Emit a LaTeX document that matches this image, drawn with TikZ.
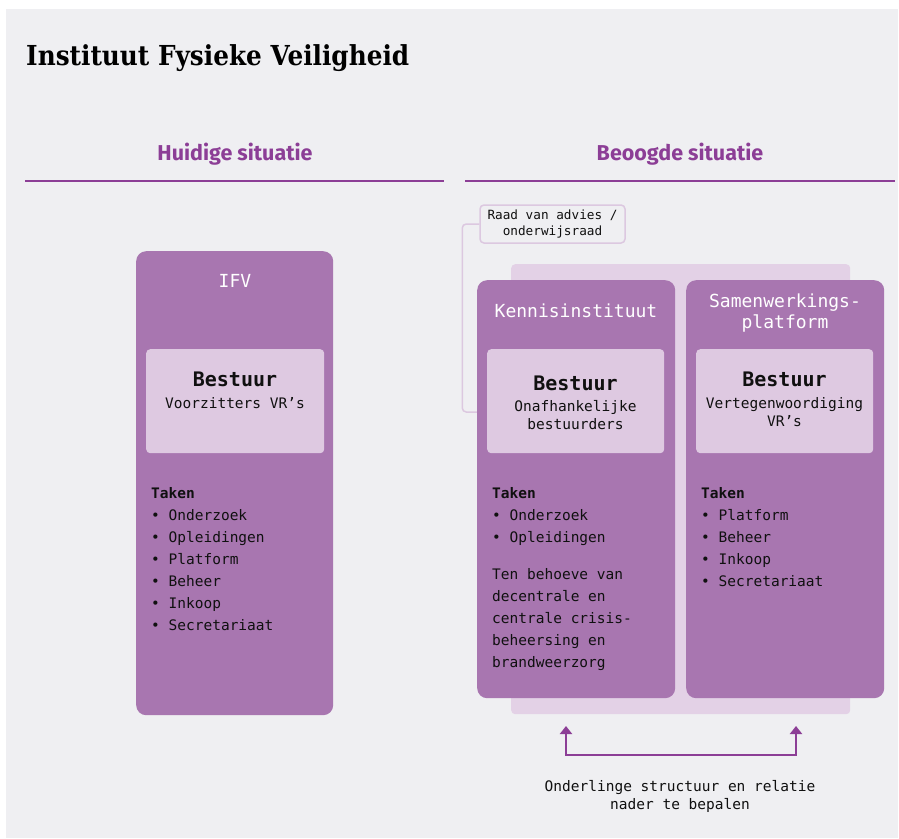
\documentclass[tikz,border=0pt]{standalone}
\usepackage{fontspec}
\usetikzlibrary{arrows.meta,positioning}
\setmainfont{DejaVu Sans Mono}
\newfontfamily\titlefont{DejaVu Serif}
\newfontfamily\headfont{Fira Sans}
\definecolor{pagegray}{RGB}{239,239,242}
\definecolor{headpurple}{RGB}{140,62,150}
\definecolor{boxpurple}{RGB}{168,118,176}
\definecolor{innerlilac}{RGB}{222,201,225}
\definecolor{panellilac}{RGB}{227,209,230}
\definecolor{linklilac}{RGB}{220,200,224}
\definecolor{inktext}{RGB}{16,16,16}
\begin{document}
\begin{tikzpicture}[x=1pt, y=-1pt, inner sep=0pt, text=inktext,
    org/.style = {fill=boxpurple, rounded corners=10pt, anchor=north west},
    bestuurbox/.style = {fill=innerlilac, rounded corners=4pt, anchor=north west},
    orgtitle/.style = {text=white, align=center, font=\fontsize{18}{21}\selectfont},
    bestuur/.style = {font=\fontsize{20}{24}\selectfont\bfseries},
    leden/.style = {align=center, font=\fontsize{14.5}{18}\selectfont},
    taken/.style = {align=left, anchor=north west, font=\fontsize{14.5}{22}\selectfont},
    head/.style = {text=headpurple, font=\headfont\fontsize{21.5}{26}\selectfont\bfseries},
    headline/.style = {draw=headpurple, line width=2pt},
    link/.style = {draw=linklilac, line width=1.5pt, rounded corners=4pt},
    relation/.style = {draw=headpurple, line width=2pt, {Triangle[width=12pt,length=8pt]}-{Triangle[width=12pt,length=8pt]}}]
    \useasboundingbox (0,0) rectangle (899,838);
    \fill[white] (0,0) rectangle (899,838);
    \fill[pagegray] (6,9) rectangle (898,838);
    \node[anchor=base west, font=\titlefont\fontsize{27.5}{32}\selectfont\bfseries, text=black] (title) at (26,65) {\scalebox{0.9}[1]{Instituut Fysieke Veiligheid}};
    \node[head] (huidig) at (235,154) {Huidige situatie};
    \node[head] (beoogd) at (680,154) {Beoogde situatie};
    \draw[headline] (25,181) -- (444,181);
    \draw[headline] (465,181) -- (895,181);
    \node[org, minimum width=197pt, minimum height=464pt] (ifv) at (136,251) {};
    \node[orgtitle] (ifvtitle) at (235,281) {IFV};
    \node[bestuurbox, minimum width=178pt, minimum height=104pt] (ifvbestuur) at (146,349) {};
    \node[bestuur] at (235,379) {Bestuur};
    \node[leden] at (235,403) {Voorzitters VR’s};
    \node[taken] (ifvtaken) at (151,487) {\textbf{Taken}\\• Onderzoek\\• Opleidingen\\• Platform\\• Beheer\\• Inkoop\\• Secretariaat};
    \node[fill=panellilac, rounded corners=4pt, anchor=north west, minimum width=339pt, minimum height=450pt] (panel) at (511,264) {};
    \node[draw=linklilac, line width=1.5pt, fill=pagegray, rounded corners=4pt, minimum width=145pt, minimum height=38pt, align=center, font=\fontsize{12.7}{16}\selectfont] (raad) at (552.5,224) {Raad van advies /\\onderwijsraad};
    \coordinate (raadend) at (482,412);
    \draw[link] (raad.west) -- ++(-17,0) |- (raadend);
    \node[org, minimum width=198pt, minimum height=418pt] (kennis) at (477,280) {};
    \node[org, minimum width=198pt, minimum height=418pt] (platform) at (686,280) {};
    \node[orgtitle] (kennistitle) at (576,311) {Kennisinstituut};
    \node[orgtitle] (platformtitle) at (785,313.5) {Samenwerkings-\\platform};
    \node[bestuurbox, minimum width=177pt, minimum height=104pt] (kennisbestuur) at (487,349) {};
    \node[bestuurbox, minimum width=177pt, minimum height=104pt] (platformbestuur) at (696,349) {};
    \node[bestuur] at (575.5,383) {Bestuur};
    \node[leden] at (575.5,415) {Onafhankelijke\\bestuurders};
    \node[bestuur] at (784.5,379) {Bestuur};
    \node[leden] at (784.5,412) {Vertegenwoordiging\\VR’s};
    \node[taken] (kennistaken) at (492,487) {\textbf{Taken}\\• Onderzoek\\• Opleidingen};
    \node[taken] (kennisdoel) at (492,568) {Ten behoeve van\\decentrale en\\centrale crisis-\\beheersing en\\brandweerzorg};
    \node[taken] (platformtaken) at (701,487) {\textbf{Taken}\\• Platform\\• Beheer\\• Inkoop\\• Secretariaat};
    \coordinate (pijlkennis) at (566,726);
    \coordinate (pijlplatform) at (796,726);
    \draw[relation] (pijlkennis) -- ++(0,29) -| (pijlplatform);
    \node[leden] (relatie) at (680,796) {Onderlinge structuur en relatie\\nader te bepalen};
\end{tikzpicture}
\end{document}
